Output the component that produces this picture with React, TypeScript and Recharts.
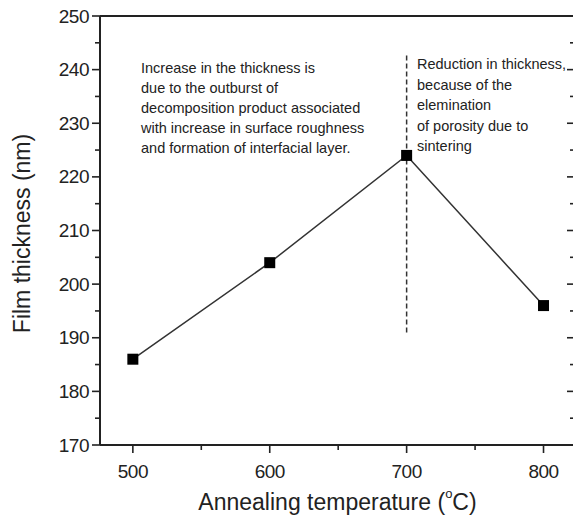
import React from "react";
import {
  LineChart,
  Line,
  XAxis,
  YAxis,
  ReferenceLine,
  Customized,
} from "recharts";

// annealing temperature (°C) vs film thickness (nm)
const temperatures = [500, 600, 700, 800];
const thickness = [186, 204, 224, 196];

const xTicks = [500, 550, 600, 650, 700, 750, 800];
const xMajor = [500, 600, 700, 800];
const yTicks = [170, 175, 180, 185, 190, 195, 200, 205, 210, 215, 220, 225, 230, 235, 240, 245, 250];
const yMajor = [170, 180, 190, 200, 210, 220, 230, 240, 250];

// dashed divider at 700 °C
const dividerTemp = 700;
const dividerFrom = 191;
const dividerTo = 243;

const leftNote = [
  "Increase in the thickness is",
  "due to the outburst of",
  "decomposition product associated",
  "with increase in surface roughness",
  "and formation of interfacial layer.",
];
const rightNote = [
  "Reduction in thickness,",
  "because of the",
  "elemination",
  "of porosity due to",
  "sintering",
];

const data = temperatures.map((t, i) => ({ temp: t, thickness: thickness[i] }));

const FONT = '"Liberation Sans", Arial, Helvetica, sans-serif';
const INK = "#222";

type Side = "bottom" | "top" | "left" | "right";

const makeTick = (side: Side, major: number[], labels: boolean) => (props: any) => {
  const { x, y, payload } = props;
  const v = payload.value;
  const isMajor = major.includes(v);
  const len = isMajor ? 8 : 5;
  let line;
  if (side === "bottom" || side === "top") {
    line = <line x1={x} y1={y} x2={x} y2={y + len} stroke={INK} strokeWidth={1.6} />;
  } else {
    line = <line x1={x - len} y1={y} x2={x} y2={y} stroke={INK} strokeWidth={1.6} />;
  }
  let label = null;
  if (labels && isMajor) {
    if (side === "bottom") {
      label = (
        <text x={x} y={y + 26} textAnchor="middle" dominantBaseline="central" fontSize={19} fill={INK} fontFamily={FONT} letterSpacing={-0.5}>
          {v}
        </text>
      );
    } else if (side === "left") {
      label = (
        <text x={x - 11} y={y} textAnchor="end" dominantBaseline="central" fontSize={19} fill={INK} fontFamily={FONT} letterSpacing={-0.5}>
          {v}
        </text>
      );
    }
  }
  return (
    <g>
      {line}
      {label}
    </g>
  );
};

const SquareDot = (props: any) => {
  const { cx, cy, index } = props;
  if (cx == null || cy == null) return null;
  return <rect key={index} x={cx - 5.5} y={cy - 5.5} width={11} height={11} fill="#000" />;
};

const Notes = () => (
  <g fontFamily={FONT} fontSize={14.5} fill="#222">
    {leftNote.map((s, i) => (
      <text key={"l" + i} x={141} y={73 + i * 20}>
        {s}
      </text>
    ))}
    {rightNote.map((s, i) => (
      <text key={"r" + i} x={417} y={69 + i * 20.5}>
        {s}
      </text>
    ))}
  </g>
);

export default function App() {
  return (
    <div
      style={{
        position: "absolute",
        left: 0,
        top: 0,
        width: 573,
        height: 526,
        overflow: "hidden",
        background: "#fff",
      }}
    >
      <LineChart
        width={600}
        height={526}
        data={data}
        margin={{ top: 15, right: 24, bottom: 31, left: 40 }}
      >
        <XAxis
          xAxisId="b"
          type="number"
          dataKey="temp"
          domain={[476, 823]}
          ticks={xTicks}
          interval={0}
          allowDataOverflow
          tickSize={0}
          tickMargin={0}
          tickLine={false}
          tick={makeTick("bottom", xMajor, true)}
          axisLine={{ stroke: INK, strokeWidth: 2 }}
          height={50}
          label={(p: any) => {
            const vb = p.viewBox;
            return (
              <text
                x={vb.x + vb.width / 2}
                y={vb.y + 57}
                textAnchor="middle"
                dominantBaseline="central"
                fontSize={23}
                fill={INK}
                fontFamily={FONT}
              >
                Annealing temperature (
                <tspan fontSize={13} dy={-9}>o</tspan>
                <tspan dy={9}>C)</tspan>
              </text>
            );
          }}
        />
        <XAxis
          xAxisId="t"
          orientation="top"
          type="number"
          domain={[476, 823]}
          ticks={xTicks}
          interval={0}
          allowDataOverflow
          tickSize={0}
          tickMargin={0}
          tickLine={false}
          tick={makeTick("top", xMajor, false)}
          axisLine={{ stroke: INK, strokeWidth: 2 }}
          height={1}
        />
        <YAxis
          yAxisId="l"
          type="number"
          domain={[170, 250]}
          ticks={yTicks}
          interval={0}
          allowDataOverflow
          tickSize={0}
          tickMargin={0}
          tickLine={false}
          tick={makeTick("left", yMajor, true)}
          axisLine={{ stroke: INK, strokeWidth: 2 }}
          width={60}
          label={(p: any) => {
            const vb = p.viewBox;
            const cy = vb.y + vb.height / 2 + 3;
            return (
              <text
                x={22}
                y={cy}
                transform={`rotate(-90 22 ${cy})`}
                textAnchor="middle"
                dominantBaseline="central"
                fontSize={23}
                fill={INK}
                fontFamily={FONT}
              >
                Film thickness (nm)
              </text>
            );
          }}
        />
        <YAxis
          yAxisId="r"
          orientation="right"
          type="number"
          domain={[170, 250]}
          ticks={yTicks}
          interval={0}
          allowDataOverflow
          tickSize={0}
          tickMargin={0}
          tickLine={false}
          tick={makeTick("right", yMajor, false)}
          axisLine={{ stroke: INK, strokeWidth: 2 }}
          width={1}
        />
        <ReferenceLine
          xAxisId="b"
          yAxisId="l"
          segment={[
            { x: dividerTemp, y: dividerFrom },
            { x: dividerTemp, y: dividerTo },
          ]}
          stroke="#333"
          strokeWidth={1.5}
          strokeDasharray="5 3"
        />
        <Line
          xAxisId="b"
          yAxisId="l"
          dataKey="thickness"
          stroke="#333"
          strokeWidth={1.5}
          dot={SquareDot}
          activeDot={false}
          isAnimationActive={false}
        />
        <Customized component={Notes} />
      </LineChart>
    </div>
  );
}
